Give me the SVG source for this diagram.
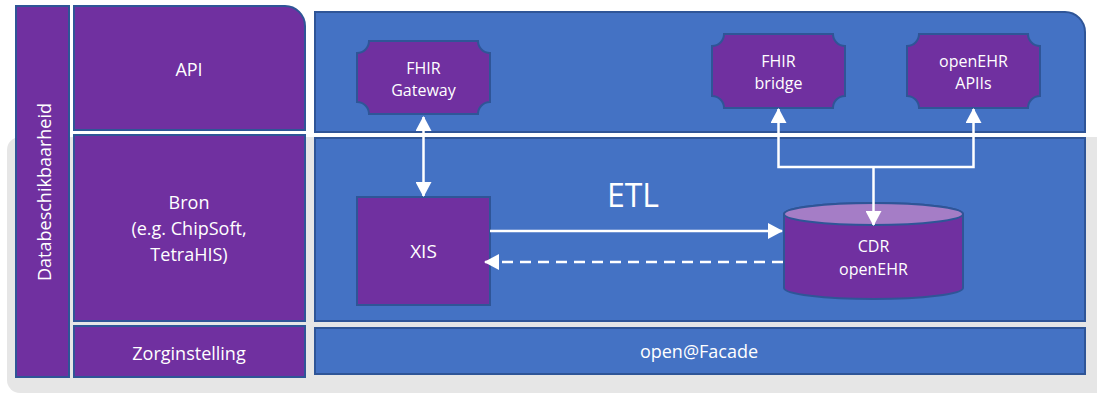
<svg xmlns="http://www.w3.org/2000/svg" width="1097" height="395" viewBox="0 0 1097 395">
  <style>
    .purple { fill: #7030A0; stroke: #2F5597; stroke-width: 2; }
    .blue { fill: #4472C4; stroke: #2F5597; stroke-width: 2; }
    .lbl { fill: #FFFFFF; font-family: "Open Sans", "Liberation Sans", sans-serif; text-anchor: middle; }
    .s16 { font-size: 16px; }
    .s18 { font-size: 18px; }
    .conn { stroke: #FFFFFF; stroke-width: 2.5; fill: none; }
  </style>
  <defs>
    <marker id="arrow" markerUnits="userSpaceOnUse" viewBox="0 0 15 16" refX="14" refY="8" markerWidth="15" markerHeight="16" orient="auto-start-reverse">
      <path d="M0,0 L15,8 L0,16 Z" fill="#FFFFFF"/>
    </marker>
  </defs>

  <rect id="background" x="7" y="137" width="1110" height="256" rx="13" ry="13" fill="#E6E6E6"/>

  <g id="databeschikbaarheid">
    <rect class="purple" x="16" y="6" width="53" height="371"/>
    <text class="lbl s18" transform="translate(51,192) rotate(-90)">Databeschikbaarheid</text>
  </g>

  <g id="api-label">
    <path class="purple" d="M74,6 H285 A20,20 0 0 1 305,26 V130 H74 Z"/>
    <text class="lbl s18" x="189" y="76">API</text>
  </g>

  <g id="bron-label">
    <rect class="purple" x="74" y="135" width="231" height="186"/>
    <text class="lbl s18" x="189" y="209">Bron</text>
    <text class="lbl s18" x="189" y="235">(e.g. ChipSoft,</text>
    <text class="lbl s18" x="189" y="261">TetraHIS)</text>
  </g>

  <g id="zorginstelling-label">
    <rect class="purple" x="74" y="326" width="231" height="51"/>
    <text class="lbl s18" x="189" y="359.5">Zorginstelling</text>
  </g>

  <g id="api-layer">
    <path class="blue" d="M315,12 H1065 A20,20 0 0 1 1085,32 V132 H315 Z"/>
  </g>

  <g id="bron-layer">
    <rect class="blue" x="315" y="138" width="770" height="183"/>
  </g>

  <g id="facade-layer">
    <rect class="blue" x="315" y="328" width="770" height="46"/>
    <text class="lbl s18" x="699" y="358">open@Facade</text>
  </g>

  <g id="fhir-gateway">
    <path class="purple" d="M369,41 H478 A12,12 0 0 0 490,53 V102 A12,12 0 0 0 478,114 H369 A12,12 0 0 0 357,102 V53 A12,12 0 0 0 369,41 Z"/>
    <text class="lbl s16" x="423.5" y="73.5">FHIR</text>
    <text class="lbl s16" x="423.5" y="96">Gateway</text>
  </g>

  <g id="fhir-bridge">
    <path class="purple" d="M724,34 H833 A12,12 0 0 0 845,46 V96 A12,12 0 0 0 833,108 H724 A12,12 0 0 0 712,96 V46 A12,12 0 0 0 724,34 Z"/>
    <text class="lbl s16" x="778.5" y="67">FHIR</text>
    <text class="lbl s16" x="778.5" y="89">bridge</text>
  </g>

  <g id="openehr-apiis">
    <path class="purple" d="M919,34 H1028 A12,12 0 0 0 1040,46 V96 A12,12 0 0 0 1028,108 H919 A12,12 0 0 0 907,96 V46 A12,12 0 0 0 919,34 Z"/>
    <text class="lbl s16" x="973.5" y="67">openEHR</text>
    <text class="lbl s16" x="973.5" y="89">APIIs</text>
  </g>

  <g id="xis">
    <rect class="purple" x="357" y="197" width="133" height="108"/>
    <text class="lbl" x="423.5" y="258" style="font-size:19px">XIS</text>
  </g>

  <g id="cdr">
    <path class="purple" d="M784,214 V288 A89.5,11 0 0 0 963,288 V214 A89.5,11 0 0 0 784,214 Z"/>
    <ellipse cx="873.5" cy="214" rx="89.5" ry="11" fill="#A57DC6" stroke="#2F5597" stroke-width="2"/>
    <text class="lbl s16" x="873.5" y="252">CDR</text>
    <text class="lbl s16" x="873.5" y="275">openEHR</text>
  </g>

  <g id="etl-label">
    <text class="lbl" x="633" y="207" style="font-size:32px">ETL</text>
  </g>

  <g id="connectors">
    <line class="conn" x1="423.5" y1="117" x2="423.5" y2="196" marker-start="url(#arrow)" marker-end="url(#arrow)"/>
    <line class="conn" x1="490" y1="231" x2="782" y2="231" marker-end="url(#arrow)"/>
    <line class="conn" x1="783" y1="262" x2="485" y2="262" stroke-dasharray="11 7" marker-end="url(#arrow)"/>
    <path class="conn" d="M778.5,109 V167 H973.5 V109" marker-start="url(#arrow)" marker-end="url(#arrow)"/>
    <line class="conn" x1="873.5" y1="167" x2="873.5" y2="225" marker-end="url(#arrow)"/>
  </g>
</svg>
